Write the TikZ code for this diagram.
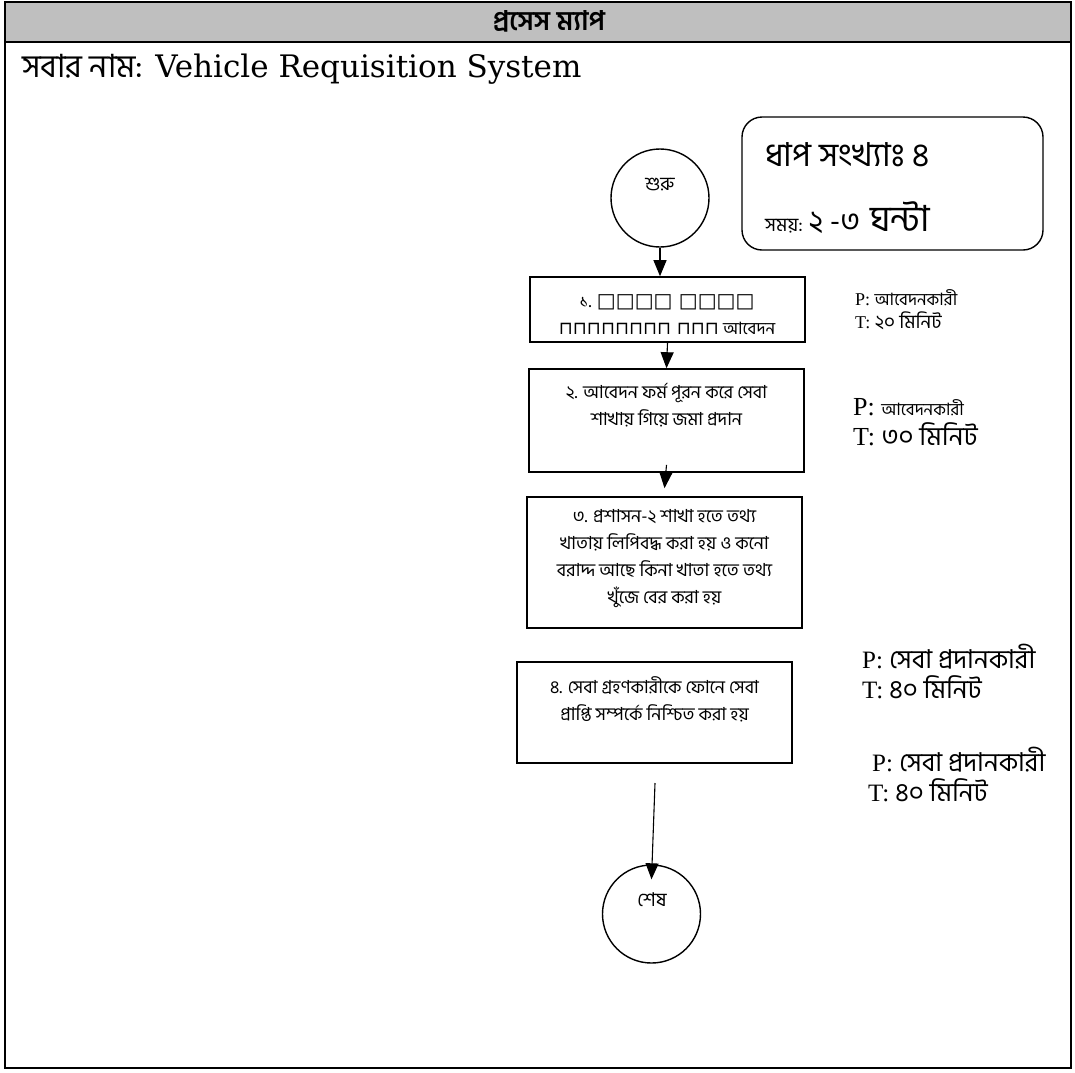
\documentclass[tikz,border=0pt]{standalone}
\usepackage{fontspec}
\setmainfont{Liberation Serif}
\newfontfamily\bangla[Script=Bengali]{Hind Siliguri}
\newfontfamily\titlefont{DejaVu Serif}
\newfontfamily\symfont{DejaVu Sans}
\usetikzlibrary{arrows.meta}

\tikzset{
	stepbox/.style={draw, line width=1.6pt, minimum width=275pt},
	endpoint/.style={draw, circle, line width=1.4pt, minimum size=98pt, inner sep=0pt},
	flow/.style={line width=1.1pt, -{Triangle[length=16pt,width=13pt]}},
	steptext/.style={align=center, font=\bangla\fontsize{18}{27}\selectfont},
	ptlabel/.style={anchor=base west, inner sep=0pt},
}

\begin{document}
\begin{tikzpicture}[x=1pt,y=-1pt]
		\useasboundingbox (0,0) rectangle (1075,1072);
		\fill[black!25] (5,2) rectangle (1071,42);
		\draw[line width=1.5pt] (5,2) rectangle (1071,1068);
		\draw[line width=1.5pt] (5,42) -- (1071,42);
		\node (head) at (549,21) {\bangla\bfseries\fontsize{27}{30}\selectfont প্রসেস ম্যাপ};
		\node[anchor=base west, inner sep=0pt] (title) at (22,77) {{\bangla\fontsize{32}{36}\selectfont সবার নাম:}\hspace{12pt}{\titlefont\fontsize{31}{35}\selectfont Vehicle Requisition System}};

		\node[draw, line width=1.4pt, rounded corners=20pt, minimum width=301pt, minimum height=133pt] (info) at (892.5,183.5) {};
		\node[anchor=base west, inner sep=0pt] (steps) at (765,166) {\bangla\fontsize{33}{37}\selectfont ধাপ সংখ্যাঃ ৪};
		\node[anchor=base west, inner sep=0pt] (time) at (765,231) {\bangla\fontsize{19}{22}\selectfont সময়: {\fontsize{30}{34}\selectfont ২ -৩}\hspace{10pt}{\fontsize{36}{40}\selectfont ঘন্টা}};

		\node[endpoint] (start) at (660,198) {};
		\node[font=\bangla\fontsize{19}{22}\selectfont] (starttext) at (660,185) {শুরু};

		\node[stepbox, minimum height=65pt] (s1) at (667.5,309.5) {};
		\node[steptext] (s1text) at (667,314.5) {১. {\symfont\fontsize{20}{20}\selectfont □□□□ □□□□}\\{\symfont\fontsize{18}{18}\selectfont ⊓⊓⊓⊓⊓⊓⊓⊓ ⊓⊓⊓} {\fontsize{17}{20}\selectfont আবেদন}};
		\node[stepbox, minimum height=103pt] (s2) at (666.5,420.5) {};
		\node[steptext] (s2text) at (666.5,405.5) {২. আবেদন ফর্ম পূরন করে সেবা\\শাখায় গিয়ে জমা প্রদান};
		\node[stepbox, minimum height=131pt] (s3) at (664.5,562.5) {};
		\node[steptext] (s3text) at (664.5,559) {৩. প্রশাসন-২ শাখা হতে তথ্য\\খাতায় লিপিবদ্ধ করা হয় ও কনো\\বরাদ্দ আছে কিনা খাতা হতে তথ্য\\খুঁজে বের করা হয়};
		\node[stepbox, minimum height=101pt] (s4) at (654.5,712.5) {};
		\node[steptext] (s4text) at (654.5,699.5) {৪. সেবা গ্রহণকারীকে ফোনে সেবা\\প্রাপ্তি সম্পর্কে নিশ্চিত করা হয়};

		\node[endpoint] (finish) at (651.5,914) {};
		\node[font=\bangla\fontsize{19}{22}\selectfont] (finishtext) at (652,900) {শেষ};

		\node[ptlabel] (p1) at (855,305) {\fontsize{18}{20}\selectfont P: {\bangla\fontsize{17}{20}\selectfont আবেদনকারী}};
		\node[ptlabel] (t1) at (855,328) {\fontsize{18}{20}\selectfont T: {\bangla\fontsize{19}{22}\selectfont ২০ মিনিট}};
		\node[ptlabel] (p2) at (853,415) {\fontsize{26}{28}\selectfont P: {\bangla\fontsize{17}{20}\selectfont আবেদনকারী}};
		\node[ptlabel] (t2) at (853,445) {\fontsize{26}{28}\selectfont T: {\bangla\fontsize{26}{30}\selectfont ৩০ মিনিট}};
		\node[ptlabel] (p3) at (862,668) {\fontsize{25}{28}\selectfont P: {\bangla\fontsize{26}{30}\selectfont সেবা প্রদানকারী}};
		\node[ptlabel] (t3) at (862,698) {\fontsize{25}{28}\selectfont T: {\bangla\fontsize{26}{30}\selectfont ৪০ মিনিট}};
		\node[ptlabel] (p4) at (872,771) {\fontsize{25}{28}\selectfont P: {\bangla\fontsize{26}{30}\selectfont সেবা প্রদানকারী}};
		\node[ptlabel] (t4) at (868,801) {\fontsize{25}{28}\selectfont T: {\bangla\fontsize{26}{30}\selectfont ৪০ মিনিট}};

		\coordinate (s4out) at (655,783);
		\draw[flow] (start) -- (start |- s1.north);
		\draw[flow] (s1.south) -- (s2.north);
		\draw[flow] ([yshift=8pt]s2.south) -- ([yshift=8pt]s3.north);
		\draw[flow] (s4out) -- ([yshift=-15pt]finish.north);
\end{tikzpicture}
\end{document}
